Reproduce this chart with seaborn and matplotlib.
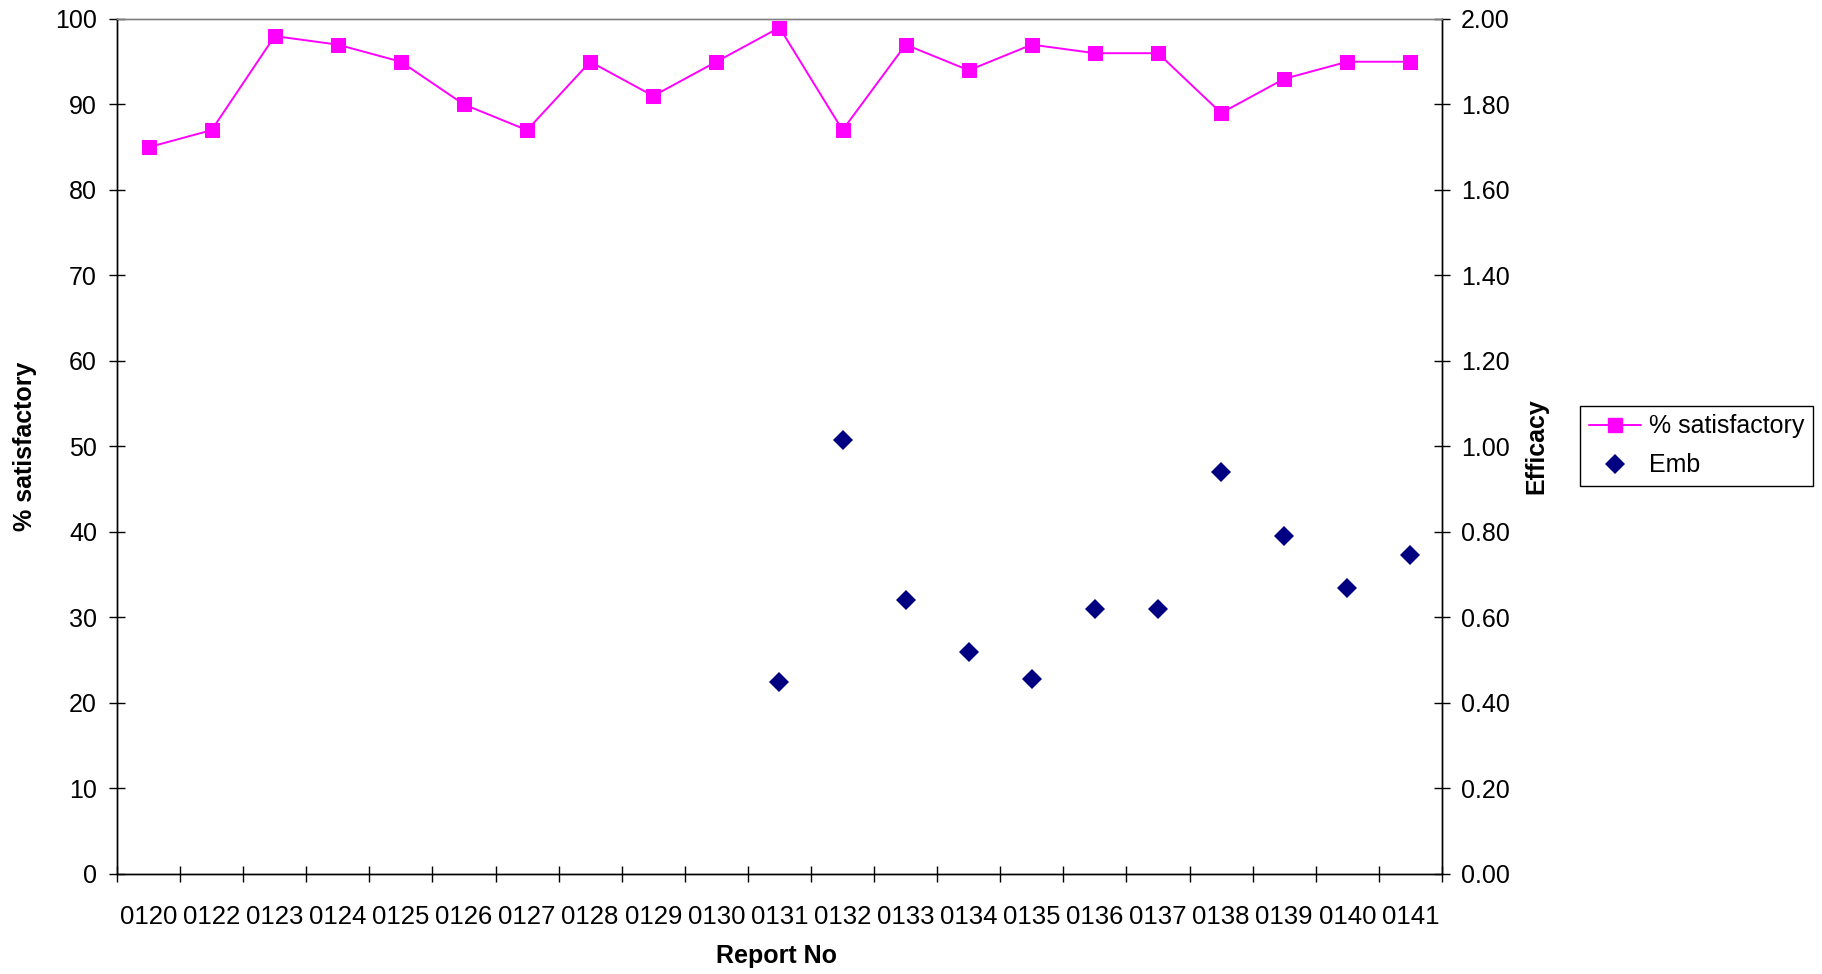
import numpy as np
import pandas as pd
import matplotlib
matplotlib.use("Agg")
import matplotlib.pyplot as plt
from matplotlib.ticker import FixedLocator, NullFormatter, FormatStrFormatter
from matplotlib.lines import Line2D
import seaborn as sns

# Report numbers (category axis)
reports = ["0120", "0122", "0123", "0124", "0125", "0126", "0127", "0128", "0129", "0130",
           "0131", "0132", "0133", "0134", "0135", "0136", "0137", "0138", "0139", "0140", "0141"]
# % satisfactory per report (left axis)
pct_satisfactory = [85, 87, 98, 97, 95, 90, 87, 95, 91, 95,
                    99, 87, 97, 94, 97, 96, 96, 89, 93, 95, 95]
# Emb efficacy per report (right axis); not measured before 0131
emb_efficacy = [np.nan] * 10 + [0.45, 1.015, 0.64, 0.52, 0.455, 0.62, 0.62, 0.94, 0.79, 0.67, 0.745]

left_ticks = [0, 10, 20, 30, 40, 50, 60, 70, 80, 90, 100]
right_ticks = [0.0, 0.2, 0.4, 0.6, 0.8, 1.0, 1.2, 1.4, 1.6, 1.8, 2.0]

PINK = "#FF00FF"
NAVY = "#000080"

sns.set_theme(style="white")
plt.rcParams["font.family"] = ["Liberation Sans", "DejaVu Sans"]
plt.rcParams["font.size"] = 18
plt.rcParams["text.color"] = "black"
plt.rcParams["axes.labelcolor"] = "black"
plt.rcParams["xtick.color"] = "black"
plt.rcParams["ytick.color"] = "black"

df = pd.DataFrame({
    "pos": np.arange(len(reports)),
    "report": reports,
    "pct": pct_satisfactory,
    "emb": emb_efficacy,
})

fig = plt.figure(figsize=(18.22, 9.74), dpi=100)
ax = fig.add_axes([0.0642, 0.1027, 0.7272, 0.8778])
ax2 = ax.twinx()

sns.lineplot(data=df, x="pos", y="pct", ax=ax, color=PINK, linewidth=1.4,
             marker="s", markersize=9.4, markeredgecolor=PINK, markerfacecolor=PINK,
             label="% satisfactory", legend=False)

# Emb drawn as unconnected diamond markers
sns.lineplot(data=df.dropna(subset=["emb"]), x="pos", y="emb", ax=ax2, color=NAVY,
             linestyle="none", marker="D", markersize=10.5, markeredgewidth=0,
             markerfacecolor=NAVY, label="Emb", legend=False)

n = len(reports)
for a in (ax, ax2):
    a.set_xlim(-0.5, n - 0.5)
    a.set_facecolor("none")

ax.set_ylim(0, 100)
ax2.set_ylim(0, 2.0)
ax.yaxis.set_major_locator(FixedLocator(left_ticks))
ax2.yaxis.set_major_locator(FixedLocator(right_ticks))
ax2.yaxis.set_major_formatter(FormatStrFormatter("%.2f"))

# Category boundaries carry the tick marks; names sit at category centres
ax.xaxis.set_major_locator(FixedLocator(np.arange(n + 1) - 0.5))
ax.xaxis.set_major_formatter(NullFormatter())
ax.set_xticks(np.arange(n), labels=reports, minor=True)

ax.tick_params(axis="x", which="major", direction="inout", length=12, width=1, color="black",
               bottom=True)
ax.tick_params(axis="x", which="minor", length=0, pad=22, labelsize=18.5)
ax.tick_params(axis="y", direction="inout", length=12, width=1, color="black", pad=8.4,
               left=True, labelsize=18)
ax2.tick_params(axis="y", direction="inout", length=11, width=1, color="black", pad=8,
                right=True, labelsize=18)

for a in (ax, ax2):
    for side in ("left", "right", "bottom"):
        a.spines[side].set_color("black")
        a.spines[side].set_linewidth(1.0)
    a.spines["top"].set_color("#808080")
    a.spines["top"].set_linewidth(1.0)

ax.set_xlabel("Report No", fontsize=18, fontweight="bold", va="center")
ax.xaxis.set_label_coords(0.498, -0.0959)
ax.set_ylabel("% satisfactory", fontsize=18, fontweight="bold", va="center")
ax.yaxis.set_label_coords(-0.0694, 0.5)
ax2.set_ylabel("Efficacy", fontsize=18, fontweight="bold", va="center", rotation=90)
ax2.yaxis.set_label_coords(1.071, 0.5)

handles = [
    Line2D([], [], color=PINK, linewidth=1.4, marker="s", markersize=9.4,
           markerfacecolor=PINK, markeredgecolor=PINK),
    Line2D([], [], linestyle="none", color=NAVY, marker="D", markersize=10.5,
           markeredgewidth=0),
]
leg = fig.legend(handles, ["% satisfactory", "Emb"], loc="center",
                 bbox_to_anchor=(0.9311, 0.5421), bbox_transform=fig.transFigure,
                 fontsize=18, frameon=True, fancybox=False, edgecolor="black",
                 framealpha=1, handlelength=2.1, handletextpad=0.3, labelspacing=0.6,
                 borderpad=0.35, borderaxespad=0)
leg.get_frame().set_linewidth(1.0)

fig.savefig("out.png", dpi=100, facecolor="white")
